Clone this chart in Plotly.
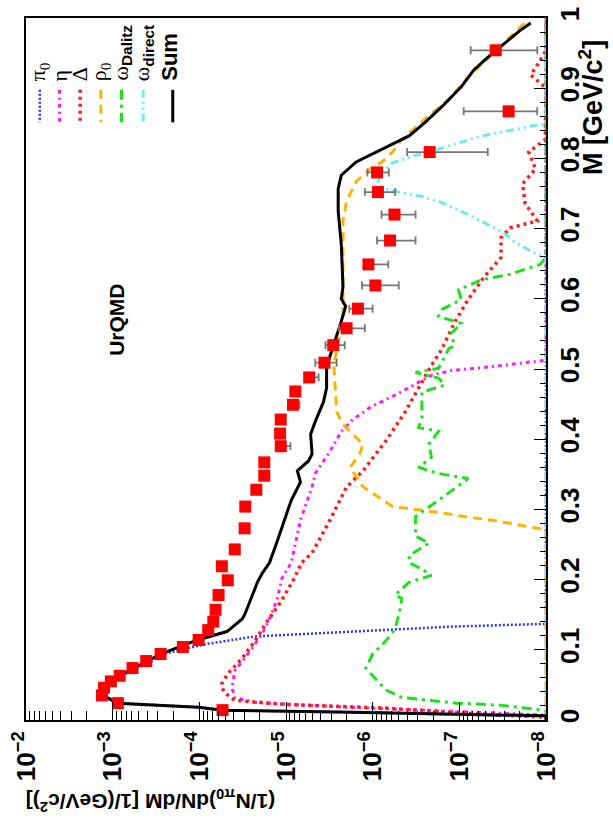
import plotly.graph_objects as go

W, H = 613, 820
L, R, T, B = 18, 67, 7, 100
PW, PH = W - L - R, H - T - B

# ---------------- measured points ----------------
mass_data = [0.014, 0.024, 0.035, 0.046, 0.055, 0.063, 0.074, 0.084, 0.094, 0.104,
             0.114, 0.128, 0.140, 0.157, 0.178, 0.199, 0.219, 0.243, 0.273, 0.304,
             0.328, 0.348, 0.367, 0.390, 0.408, 0.428, 0.449, 0.468, 0.488, 0.509,
             0.534, 0.558, 0.586, 0.619, 0.649, 0.683, 0.720, 0.752, 0.780, 0.809,
             0.867, 0.954]
dndm_data = [5.4e-5, 8.7e-4, 1.33e-3, 1.26e-3, 1.05e-3, 8.3e-4, 5.9e-4, 4.1e-4, 2.8e-4, 1.55e-4,
             1.02e-4, 7.9e-5, 6.9e-5, 6.5e-5, 6.0e-5, 4.7e-5, 5.5e-5, 3.9e-5, 3.0e-5, 2.95e-5,
             2.2e-5, 1.78e-5, 1.78e-5, 1.15e-5, 1.17e-5, 1.15e-5, 8.3e-6, 7.8e-6, 5.4e-6, 3.6e-6,
             2.85e-6, 2.0e-6, 1.48e-6, 9.3e-7, 1.12e-6, 6.3e-7, 5.6e-7, 8.7e-7, 8.9e-7, 2.2e-7,
             2.7e-8, 3.8e-8]
dndm_err_hi = [5.4e-5, 8.7e-4, 1.33e-3, 1.26e-3, 1.05e-3, 8.3e-4, 5.9e-4, 4.1e-4, 2.8e-4, 1.55e-4,
               1.02e-4, 7.9e-5, 6.9e-5, 6.5e-5, 6.0e-5, 4.7e-5, 5.5e-5, 3.9e-5, 3.0e-5, 2.95e-5,
               2.2e-5, 1.78e-5, 1.78e-5, 1.2e-5, 1.17e-5, 1.15e-5, 8.8e-6, 7.8e-6, 5.6e-6, 4.6e-6,
               3.5e-6, 2.45e-6, 1.86e-6, 1.33e-6, 1.23e-6, 8.9e-7, 7.9e-7, 1.23e-6, 1.15e-6, 4.0e-7,
               8.9e-8, 7.4e-8]
dndm_err_lo = [5.4e-5, 8.7e-4, 1.33e-3, 1.26e-3, 1.05e-3, 8.3e-4, 5.9e-4, 4.1e-4, 2.8e-4, 1.55e-4,
               1.02e-4, 7.9e-5, 6.9e-5, 6.5e-5, 6.0e-5, 4.7e-5, 5.5e-5, 3.9e-5, 3.0e-5, 2.95e-5,
               2.2e-5, 1.78e-5, 1.78e-5, 8.9e-6, 1.17e-5, 1.15e-5, 7.0e-6, 7.8e-6, 4.2e-6, 2.6e-6,
               2.1e-6, 1.23e-6, 1.0e-6, 5.0e-7, 6.6e-7, 3.2e-7, 3.2e-7, 5.5e-7, 6.5e-7, 4.7e-8,
               1.26e-8, 1.26e-8]

# ---------------- UrQMD cocktail components ----------------
mass_pi0 = [0.0, 0.005, 0.011, 0.014, 0.018, 0.024, 0.035, 0.046, 0.063, 0.084,
            0.094, 0.108, 0.119, 0.126, 0.133, 0.137, 1.0]
dndm_pi0 = [1e-8, 1e-8, 1.6e-6, 5.0e-5, 1.0e-4, 8.3e-4, 1.26e-3, 1.2e-3, 7.9e-4, 3.5e-4,
            2.6e-4, 8.5e-5, 2.3e-5, 1.7e-6, 1.23e-7, 1e-8, 1e-8]

mass_eta = [0.0, 0.007, 0.018, 0.025, 0.032, 0.046, 0.070, 0.094, 0.122, 0.150,
            0.173, 0.201, 0.224, 0.243, 0.285, 0.332, 0.351, 0.383, 0.411, 0.428,
            0.446, 0.466, 0.481, 0.491, 0.498, 0.502, 0.508, 0.512, 0.515, 1.0]
dndm_eta = [1e-8, 1e-8, 1.7e-6, 2.3e-5, 3.9e-5, 4.2e-5, 3.9e-5, 2.75e-5, 1.9e-5, 1.48e-5,
            1.26e-5, 1.12e-5, 8.7e-6, 8.1e-6, 6.8e-6, 5.0e-6, 4.6e-6, 3.1e-6, 2.3e-6, 1.7e-6,
            1.05e-6, 4.9e-7, 2.95e-7, 2.1e-7, 1.23e-7, 5.2e-8, 2.1e-8, 1.07e-8, 1e-8, 1e-8]

mass_delta = [0.0, 0.004, 0.010, 0.017, 0.022, 0.028, 0.038, 0.046, 0.052, 0.066,
              0.088, 0.112, 0.140, 0.168, 0.201, 0.224, 0.238, 0.285, 0.332, 0.355,
              0.397, 0.439, 0.473, 0.505, 0.529, 0.565, 0.599, 0.631, 0.659, 0.687,
              0.701, 0.711, 0.736, 0.764, 0.785, 0.809, 0.827, 0.900, 0.919, 0.933,
              0.954, 1.0]
dndm_delta = [1e-8, 1e-8, 1.0e-7, 7.1e-7, 9.8e-6, 3.9e-5, 5.0e-5, 5.5e-5, 5.5e-5, 4.7e-5,
              3.2e-5, 2.3e-5, 1.66e-5, 1.15e-5, 8.1e-6, 6.6e-6, 5.0e-6, 3.1e-6, 2.0e-6, 1.29e-6,
              7.1e-7, 4.2e-7, 2.95e-7, 2.1e-7, 1.58e-7, 1.15e-7, 7.9e-8, 5.2e-8, 3.3e-8, 3.3e-8,
              2.6e-8, 1.26e-8, 1.74e-8, 1.86e-8, 1.32e-8, 1.58e-8, 1.02e-8, 1e-8, 1.5e-8, 1.26e-8,
              1e-8, 1e-8]

mass_rho = [0.0, 0.271, 0.276, 0.280, 0.285, 0.290, 0.295, 0.300, 0.304, 0.332,
            0.360, 0.379, 0.393, 0.407, 0.421, 0.439, 0.473, 0.505, 0.575, 0.613,
            0.655, 0.711, 0.739, 0.767, 0.785, 0.795, 0.809, 0.827, 0.856, 0.884,
            0.916, 0.937, 0.970, 0.996]
dndm_rho = [1e-8, 1e-8, 1.66e-8, 2.6e-8, 4.4e-8, 8.9e-8, 1.58e-7, 3.2e-7, 5.9e-7, 1.29e-6,
            1.82e-6, 1.41e-6, 1.29e-6, 1.7e-6, 2.2e-6, 2.6e-6, 2.7e-6, 2.8e-6, 2.2e-6, 2.2e-6,
            2.2e-6, 2.2e-6, 2.0e-6, 1.55e-6, 1.07e-6, 7.8e-7, 5.9e-7, 4.6e-7, 2.5e-7, 1.32e-7,
            7.9e-8, 5.2e-8, 2.75e-8, 1.66e-8]

mass_omega_dalitz = [0.0, 0.011, 0.014, 0.021, 0.024, 0.032, 0.042, 0.052, 0.074, 0.094,
                     0.112, 0.130, 0.154, 0.173, 0.178, 0.196, 0.206, 0.215, 0.224, 0.234,
                     0.252, 0.262, 0.290, 0.309, 0.313, 0.344, 0.351, 0.360, 0.374, 0.393,
                     0.411, 0.417, 0.431, 0.445, 0.467, 0.477, 0.487, 0.495, 0.501, 0.529,
                     0.533, 0.551, 0.565, 0.575, 0.585, 0.599, 0.613, 0.627, 0.635, 0.649,
                     0.659, 1.0]
dndm_omega_dalitz = [1e-8, 1e-8, 1.07e-8, 3.3e-8, 1.07e-7, 4.6e-7, 6.8e-7, 8.3e-7, 1.2e-6, 1.0e-6,
                     7.1e-7, 5.5e-7, 4.9e-7, 4.6e-7, 5.5e-7, 3.8e-7, 2.1e-7, 2.7e-7, 3.8e-7, 3.8e-7,
                     2.24e-7, 3.2e-7, 3.2e-7, 1.9e-7, 1.74e-7, 7.9e-8, 1.74e-7, 2.95e-7, 2.1e-7, 2.24e-7,
                     1.74e-7, 2.95e-7, 2.7e-7, 2.7e-7, 2.7e-7, 1.48e-7, 1.74e-7, 3.2e-7, 1.74e-7, 1.32e-7,
                     1.15e-7, 1.23e-7, 9.5e-8, 1.74e-7, 1.58e-7, 9.5e-8, 1.02e-7, 5.6e-8, 2.6e-8, 1.17e-8,
                     1e-8, 1e-8]

mass_omega_direct = [0.0, 0.659, 0.663, 0.680, 0.695, 0.720, 0.737, 0.746, 0.752, 0.757,
                     0.768, 0.780, 0.793, 0.803, 0.809, 0.818, 0.832, 0.841, 0.846, 0.849, 1.0]
dndm_omega_direct = [1e-8, 1e-8, 1.26e-8, 2.24e-8, 3.16e-8, 7.9e-8, 1.58e-7, 2.8e-7, 5.0e-7, 7.4e-7,
                     8.7e-7, 7.9e-7, 6.0e-7, 3.55e-7, 2.24e-7, 1.32e-7, 5.6e-8, 2.3e-8, 1.5e-8, 1e-8, 1e-8]

mass_sum = [0.0, 0.006, 0.011, 0.014, 0.018, 0.024, 0.035, 0.046, 0.063, 0.094,
            0.114, 0.126, 0.144, 0.150, 0.186, 0.196, 0.210, 0.224, 0.255, 0.292,
            0.313, 0.339, 0.355, 0.369, 0.379, 0.407, 0.425, 0.453, 0.473, 0.501,
            0.519, 0.565, 0.589, 0.600, 0.617, 0.677, 0.725, 0.757, 0.776, 0.795,
            0.813, 0.832, 0.851, 0.874, 0.902, 0.926, 0.944, 0.968, 0.982, 0.993]
dndm_sum = [1e-8, 1e-8, 1.7e-6, 5.5e-5, 1.02e-4, 8.9e-4, 1.29e-3, 1.26e-3, 8.3e-4, 2.8e-4,
            1.05e-4, 4.8e-5, 3.2e-5, 3.0e-5, 2.3e-5, 2.14e-5, 1.86e-5, 1.55e-5, 1.26e-5, 1.0e-5,
            8.7e-6, 6.8e-6, 7.4e-6, 5.5e-6, 5.0e-6, 5.2e-6, 4.6e-6, 3.7e-6, 3.4e-6, 3.4e-6,
            3.1e-6, 2.34e-6, 2.05e-6, 2.3e-6, 2.2e-6, 2.3e-6, 2.5e-6, 2.5e-6, 2.3e-6, 1.55e-6,
            7.8e-7, 3.8e-7, 2.5e-7, 1.58e-7, 9.5e-8, 6.8e-8, 4.7e-8, 2.75e-8, 2.0e-8, 1.5e-8]

SUBFONT = "font-family:Liberation Sans;font-weight:bold"

# line styles: (label, colour, width, dash)
styles = {
    "pi0": ("π<sub>0</sub>", "#3333ff", 2.5, "2px,2px"),
    "eta": ("η", "#ff1aff", 3, "4px,4px,2px,4px"),
    "delta": ("Δ", "#ff1a1a", 3.5, "3px,4px"),
    "rho": ("ρ<sub>0</sub>", "#ffb300", 3, "9px,6px"),
    "omega_dalitz": (f'ω<sub><span style="{SUBFONT}">Dalitz</span></sub>', "#1ee01e", 3, "10px,5px,3px,5px"),
    "omega_direct": (f'ω<sub><span style="{SUBFONT}">direct</span></sub>', "#6eeaf5", 3, "8px,4px,2px,4px,2px,4px"),
    "sum": ("<b>Sum</b>", "black", 3, "solid"),
}
curves = [
    ("pi0", mass_pi0, dndm_pi0),
    ("eta", mass_eta, dndm_eta),
    ("delta", mass_delta, dndm_delta),
    ("rho", mass_rho, dndm_rho),
    ("omega_dalitz", mass_omega_dalitz, dndm_omega_dalitz),
    ("omega_direct", mass_omega_direct, dndm_omega_direct),
    ("sum", mass_sum, dndm_sum),
]

fig = go.Figure()

for key, m, v in curves:
    _, col, wid, dash = styles[key]
    fig.add_trace(go.Scatter(x=v, y=m, mode="lines",
                             line=dict(color=col, width=wid, dash=dash),
                             hoverinfo="skip", showlegend=False))

fig.add_trace(go.Scatter(
    x=dndm_data, y=mass_data, mode="markers",
    marker=dict(symbol="square", size=12, color="#ff0000", line=dict(width=0)),
    error_x=dict(type="data", symmetric=False,
                 array=[h - v for h, v in zip(dndm_err_hi, dndm_data)],
                 arrayminus=[v - l for l, v in zip(dndm_err_lo, dndm_data)],
                 color="#777777", thickness=1.8, width=4),
    hoverinfo="skip", showlegend=False))


def xp(px):
    return (px - L) / PW


def yp(py):
    return (H - B - py) / PH


# rotated legend drawn beside the top frame
legend_cols = [32, 52, 73, 94, 115, 137, 167]
shapes = []
annotations = []
for (key, _, _), cx in zip(curves, legend_cols):
    label, col, wid, dash = styles[key]
    shapes.append(dict(type="line", xref="paper", yref="paper",
                       x0=xp(cx), x1=xp(cx), y0=yp(80), y1=yp(113),
                       line=dict(color=col, width=wid, dash=dash)))
    is_sum = key == "sum"
    annotations.append(dict(
        text=label, xref="paper", yref="paper", x=xp(cx - (3 if is_sum else 0)), y=yp(73),
        xanchor="center", yanchor="bottom", textangle=-90, showarrow=False,
        font=dict(size=22,
                  family="Liberation Sans" if is_sum else "Liberation Serif",
                  color="black")))

annotations.append(dict(text="<b>UrQMD</b>", xref="paper", yref="paper",
                        x=xp(110), y=yp(314), xanchor="center", yanchor="middle",
                        textangle=-90, showarrow=False,
                        font=dict(size=21, family="Liberation Sans", color="black")))
annotations.append(dict(text="<b>M [GeV/c<sup>2</sup>]</b>", xref="paper", yref="paper",
                        x=xp(591), y=yp(98), xanchor="center", yanchor="middle",
                        textangle=-90, showarrow=False,
                        font=dict(size=27, family="Liberation Sans", color="black")))
annotations.append(dict(text="<b>(1/N<sub>π0</sub>)dN/dM [1/(GeV/c<sup>2</sup>)]</b>",
                        xref="paper", yref="paper", x=xp(145), y=yp(802),
                        xanchor="center", yanchor="middle", textangle=180, showarrow=False,
                        font=dict(size=21, family="Liberation Sans", color="black")))

fig.update_layout(
    width=W, height=H,
    margin=dict(l=L, r=R, t=T, b=B, pad=0),
    paper_bgcolor="white", plot_bgcolor="white",
    showlegend=False,
    font=dict(family="Liberation Sans", color="black"),
    shapes=shapes, annotations=annotations,
)
fig.update_xaxes(
    type="log", range=[-2, -8], dtick=1, exponentformat="power",
    showgrid=False, zeroline=False, showline=True, linecolor="black", linewidth=1.5,
    mirror=True, ticks="inside", ticklen=18, tickwidth=1, tickcolor="black",
    tickangle=-90, ticklabeloverflow="allow",
    tickfont=dict(size=21, family="Liberation Sans", weight="bold"),
    minor=dict(ticks="inside", ticklen=9, tickwidth=1, tickcolor="black",
               dtick="D1", showgrid=False),
)
fig.update_yaxes(
    range=[0, 1], side="right", dtick=0.1, tick0=0,
    showgrid=False, zeroline=False, showline=True, linecolor="black", linewidth=1.5,
    mirror=True, ticks="inside", ticklen=12, tickwidth=1, tickcolor="black",
    tickangle=-90, ticklabeloverflow="allow",
    tickfont=dict(size=26, family="Liberation Sans", weight="bold"),
    minor=dict(ticks="inside", ticklen=6, tickwidth=1, tickcolor="black",
               dtick=0.02, showgrid=False),
)

fig.write_html("out.html")
